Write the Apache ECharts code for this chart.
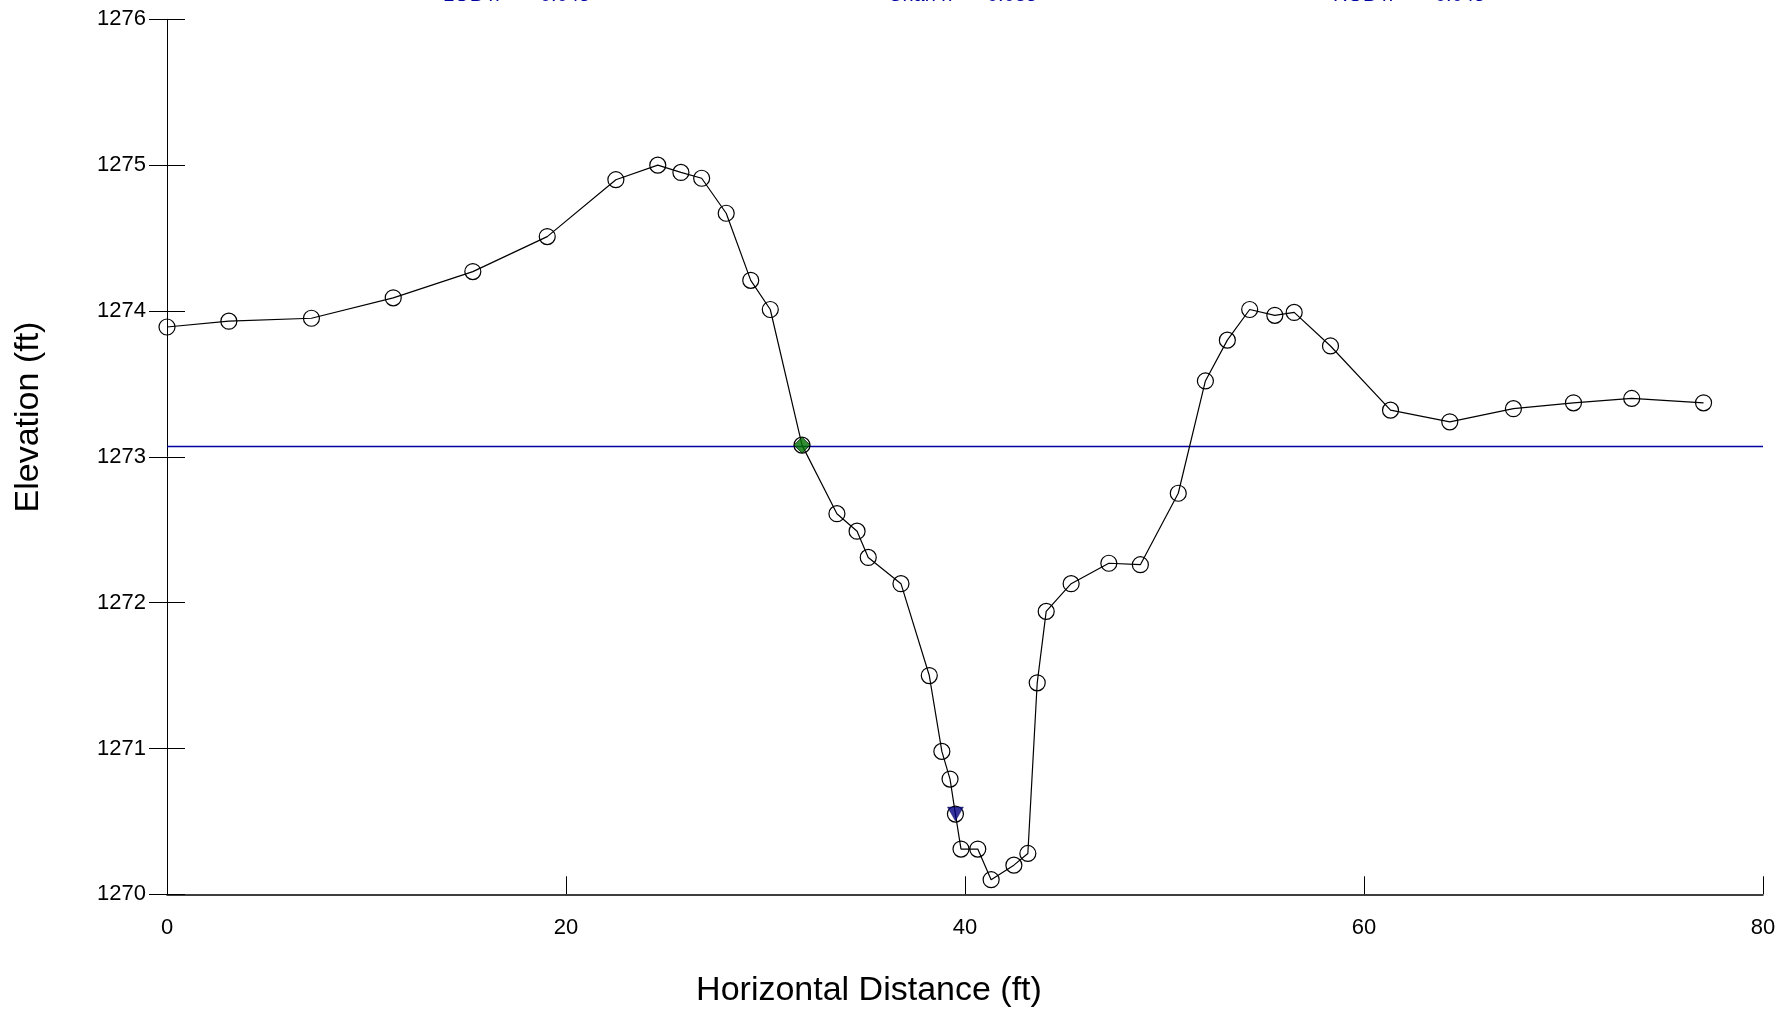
<!DOCTYPE html>
<html>
<head>
<meta charset="utf-8">
<script src="https://cdn.jsdelivr.net/npm/echarts@6/dist/echarts.min.js"></script>
<style>
html,body{margin:0;padding:0;background:#fff;}
#chart{width:1779px;height:1010px;}
</style>
</head>
<body>
<div id="chart"></div>
<script>
// Cross-section survey: horizontal distance (ft) and elevation (ft)
const stations = [0, 3.1, 7.24, 11.34, 15.33, 19.06, 22.5, 24.6, 25.76, 26.8, 28.03, 29.26, 30.24, 31.83, 33.58, 34.59, 35.15, 36.79, 38.21, 38.84, 39.25, 39.52, 39.8, 40.64, 41.31, 42.45, 43.15, 43.62, 44.07, 45.32, 47.21, 48.79, 50.69, 52.05, 53.15, 54.27, 55.53, 56.5, 58.32, 61.33, 64.3, 67.49, 70.5, 73.42, 77.02];
const elevations = [1273.89, 1273.93, 1273.95, 1274.09, 1274.27, 1274.51, 1274.90, 1275.00, 1274.95, 1274.91, 1274.67, 1274.21, 1274.01, 1273.08, 1272.61, 1272.49, 1272.31, 1272.13, 1271.50, 1270.98, 1270.79, 1270.55, 1270.31, 1270.31, 1270.10, 1270.20, 1270.28, 1271.45, 1271.94, 1272.13, 1272.27, 1272.26, 1272.75, 1273.52, 1273.80, 1274.01, 1273.97, 1273.99, 1273.76, 1273.32, 1273.24, 1273.33, 1273.37, 1273.40, 1273.37];
const waterSurface = 1273.07;
const waterExtent = [0, 80];
const bankPoint = [31.83, 1273.08];
const thalwegPoint = [39.52, 1270.55];
const xTicks = [0, 20, 40, 60, 80];
const yTicks = [1270, 1271, 1272, 1273, 1274, 1275, 1276];
const topWords = ['LOB n', 'Chan n', 'ROB n'];
const topValues = ['0.045', '0.035', '0.045'];
const xTitle = 'Horizontal Distance (ft)';
const yTitle = 'Elevation (ft)';

const FONT = '"Liberation Sans", Arial, sans-serif';
const chart = echarts.init(document.getElementById('chart'), null, {renderer: 'canvas'});

const profile = stations.map((s, i) => [s, elevations[i]]);
const wsLine = waterExtent.map(x => [x, waterSurface]);

const topGraphics = [];
const wordX = [443, 888, 1333];
const valX = [540, 987, 1435];
topWords.forEach((w, i) => {
  topGraphics.push({type: 'text', x: wordX[i], y: -5, style: {text: w, fontSize: 20, fontFamily: FONT, fill: '#0000a0', textAlign: 'left', textVerticalAlign: 'middle'}});
  topGraphics.push({type: 'text', x: valX[i], y: -5, style: {text: topValues[i], fontSize: 20, fontFamily: FONT, fill: '#0000a0', textAlign: 'left', textVerticalAlign: 'middle'}});
});

const yAxisBase = {
  type: 'value', min: yTicks[0], max: yTicks[yTicks.length - 1], interval: 1,
  splitLine: {show: false}
};

chart.setOption({
  animation: false,
  backgroundColor: '#ffffff',
  grid: {left: 167, right: 16, top: 19.3, bottom: 115.7, containLabel: false},
  xAxis: {
    type: 'value', min: xTicks[0], max: xTicks[xTicks.length - 1], interval: 20,
    axisLine: {show: true, lineStyle: {color: '#000', width: 1.5}},
    axisTick: {show: true, inside: true, length: 18, lineStyle: {color: '#000', width: 1}},
    axisLabel: {show: true, margin: 23, color: '#000', fontSize: 22, fontFamily: FONT, formatter: v => String(v)},
    splitLine: {show: false}
  },
  yAxis: [
    Object.assign({}, yAxisBase, {
      position: 'left',
      axisLine: {show: true, onZero: false, lineStyle: {color: '#000', width: 1}},
      axisTick: {show: true, inside: false, length: 18, lineStyle: {color: '#000', width: 1}},
      axisLabel: {show: true, margin: 21, color: '#000', fontSize: 22, fontFamily: FONT, formatter: v => String(v)}
    }),
    Object.assign({}, yAxisBase, {
      position: 'left', offset: 0,
      axisLine: {show: false},
      axisTick: {show: true, inside: true, length: 18, lineStyle: {color: '#000', width: 1}},
      axisLabel: {show: false}
    })
  ],
  graphic: [
    {type: 'text', x: 869, y: 991, style: {text: xTitle, fontSize: 34, fontFamily: FONT, fill: '#000', textAlign: 'center', textVerticalAlign: 'middle'}},
    {type: 'text', x: 29, y: 417, rotation: Math.PI / 2, style: {text: yTitle, fontSize: 34, fontFamily: FONT, fill: '#000', textAlign: 'center', textVerticalAlign: 'middle'}}
  ].concat(topGraphics),
  series: [
    {
      type: 'line', data: wsLine, yAxisIndex: 0, showSymbol: false, symbol: 'none',
      color: '#0000a0',
      lineStyle: {color: '#0000a0', width: 1.5}, itemStyle: {color: '#0000a0'}, z: 1, silent: true
    },
    {
      type: 'line', data: profile, yAxisIndex: 0,
      symbol: 'circle', symbolSize: 16, showAllSymbol: true,
      lineStyle: {color: '#000', width: 1.2},
      itemStyle: {color: 'rgba(255,255,255,0)', borderColor: '#000', borderWidth: 1.2},
      z: 3, silent: true
    },
    {
      type: 'scatter', data: [bankPoint], yAxisIndex: 0,
      symbol: 'diamond', symbolSize: 16,
      itemStyle: {color: '#007000', borderColor: '#002000', borderWidth: 1},
      z: 4, silent: true
    },
    {
      type: 'scatter', data: [thalwegPoint], yAxisIndex: 0,
      symbol: 'triangle', symbolSize: [16, 14], symbolRotate: 180,
      itemStyle: {color: '#000080', borderColor: '#000040', borderWidth: 0.5},
      z: 4, silent: true
    }
  ]
});
</script>
</body>
</html>
